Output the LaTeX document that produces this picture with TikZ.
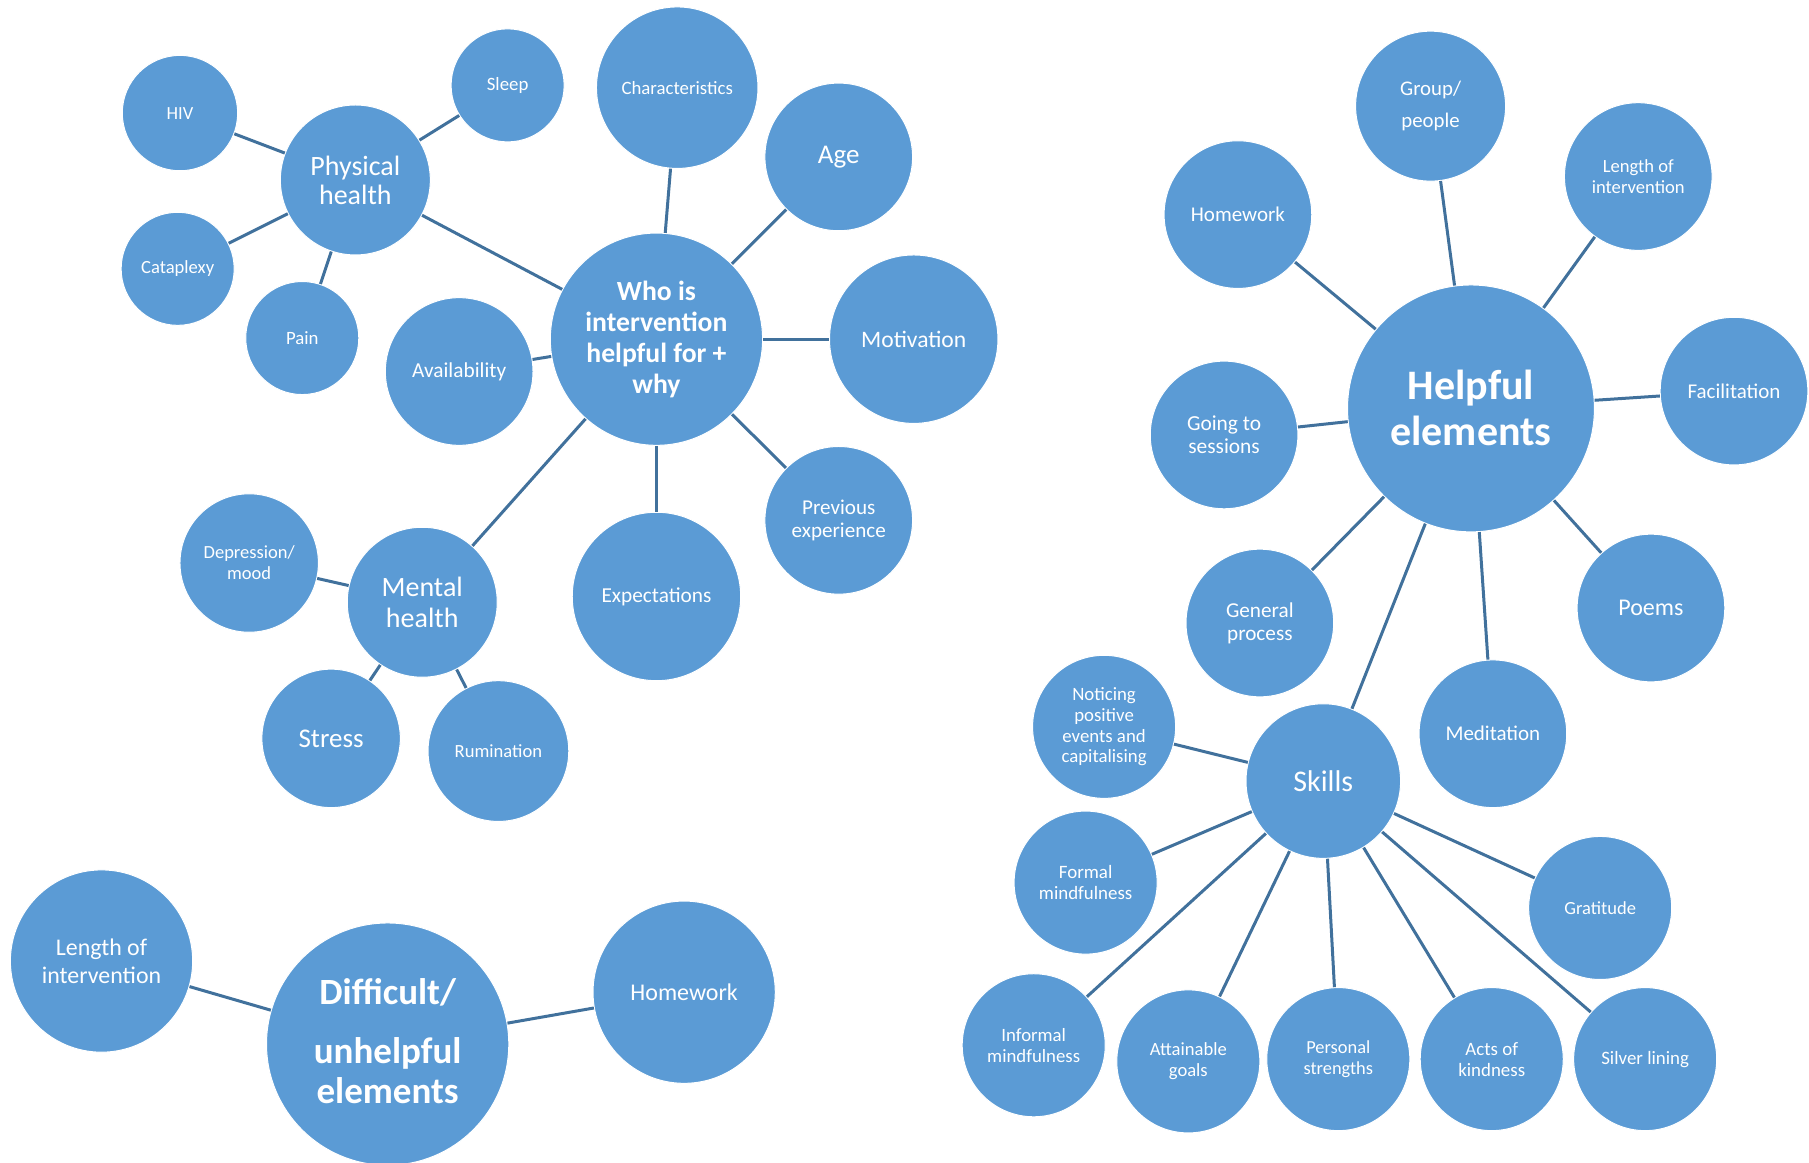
\documentclass[tikz,border=0pt]{standalone}
\usepackage{fontspec}
\setmainfont{Carlito}
\definecolor{bubfill}{HTML}{5B9BD5}
\definecolor{linkc}{HTML}{41719C}
\begin{document}
\begin{tikzpicture}[x=1.1537pt,y=-1.1537pt,
  bub/.style={circle,fill=bubfill,draw=white,line width=1pt,text=white,align=center,inner sep=0pt,minimum size={2.3074pt*#1}},
  fs/.style 2 args={font=\fontsize{#1}{#2}\selectfont},
  fsb/.style 2 args={font=\fontsize{#1}{#2}\selectfont\bfseries},
  link/.style={draw=linkc,line width=3pt}]
\useasboundingbox (0,0) rectangle (1568,1008);
% --- Who is intervention helpful for cluster
\node[bub=50,fs={18.5}{21}] (hiv) at (156,98) {HIV};
\node[bub=49,fs={18.8}{21}] (sleep) at (440,74) {Sleep};
\node[bub=70,fs={18.8}{21}] (char) at (587,76) {Characteristics};
\node[bub=64,fs={27}{30}] (age) at (727,136) {Age};
\node[bub=65,fs={28}{29}] (phys) at (308,156) {Physical\\health};
\node[bub=49,fs={18.6}{21}] (cata) at (154,233) {Cataplexy};
\node[bub=49,fs={18.8}{21}] (pain) at (262,293) {Pain};
\node[bub=64,fs={21.3}{23}] (avail) at (398,322) {Availability};
\node[bub=92,fsb={27.7}{31}] (who) at (569,294) {Who is\\intervention\\helpful for +\\why};
\node[bub=73,fs={23.6}{26}] (motiv) at (792,294) {Motivation};
\node[bub=64,fs={21.1}{23}] (prev) at (727,451) {Previous\\experience};
\node[bub=73,fs={21.3}{23}] (expect) at (569,517) {Expectations};
\node[bub=60,fs={18.5}{21}] (depr) at (216,488) {Depression/\\mood};
\node[bub=65,fs={28}{31}] (mental) at (366,522) {Mental\\health};
\node[bub=60,fs={27}{30}] (stress) at (287,640) {Stress};
\node[bub=61,fs={18.6}{21}] (rumin) at (432,651) {Rumination};
% --- Difficult cluster
\node[bub=79,fs={23.9}{27.7}] (lenL) at (88,833) {Length of\\intervention};
\node[bub=105] (diff) at (336,905) {};
\node[text=white,align=center,inner sep=0pt,fsb={37}{40}] (difft) at (336,902.5) {Difficult/\\[19pt]unhelpful\\elements};
\node[bub=79,fs={24}{27}] (homeL) at (593,860) {Homework};
% --- Helpful cluster
\node[bub=65,fs={20.8}{32}] (group) at (1240,92) {Group/\\people};
\node[bub=64,fs={18.6}{21}] (lenR) at (1420,153) {Length of\\intervention};
\node[bub=64,fs={21}{23}] (homeR) at (1073,186) {Homework};
\node[bub=107,fsb={42}{46}] (help) at (1275,354) {Helpful\\elements};
\node[bub=64,fs={21}{23}] (facil) at (1503,339) {Facilitation};
\node[bub=64,fs={21.4}{23}] (going) at (1061,377) {Going to\\sessions};
\node[bub=64,fs={24}{26}] (poems) at (1431,527) {Poems};
\node[bub=64,fs={21.2}{23}] (general) at (1092,540) {General\\process};
\node[bub=64,fs={21}{23}] (medit) at (1294,636) {Meditation};
\node[bub=62,fs={18.8}{20.8}] (notice) at (957,630) {Noticing\\positive\\events and\\capitalising};
\node[bub=67,fs={30}{32}] (skills) at (1147,677) {Skills};
\node[bub=62,fs={18.9}{21}] (formal) at (941,765) {Formal\\mindfulness};
\node[bub=62,fs={18.5}{21}] (grat) at (1387,787) {Gratitude};
\node[bub=62,fs={18.8}{21}] (informal) at (896,906) {Informal\\mindfulness};
\node[bub=62,fs={18.6}{21}] (attain) at (1030,920) {Attainable\\goals};
\node[bub=62,fs={18.4}{21}] (personal) at (1160,918) {Personal\\strengths};
\node[bub=62,fs={18.9}{21}] (acts) at (1293,918) {Acts of\\kindness};
\node[bub=62,fs={18.9}{21}] (silver) at (1426,918) {Silver lining};
% --- connectors
\foreach \a/\b in {phys/hiv,phys/sleep,phys/cata,phys/pain,phys/who,
  who/char,who/age,who/motiv,who/prev,who/expect,who/avail,who/mental,
  mental/depr,mental/stress,mental/rumin,
  diff/lenL,diff/homeL,
  help/homeR,help/group,help/lenR,help/facil,help/going,help/poems,help/general,help/medit,help/skills,
  skills/notice,skills/formal,skills/grat,skills/informal,skills/attain,skills/personal,skills/acts,skills/silver}
  \draw[link] (\a) -- (\b);
\end{tikzpicture}
\end{document}
